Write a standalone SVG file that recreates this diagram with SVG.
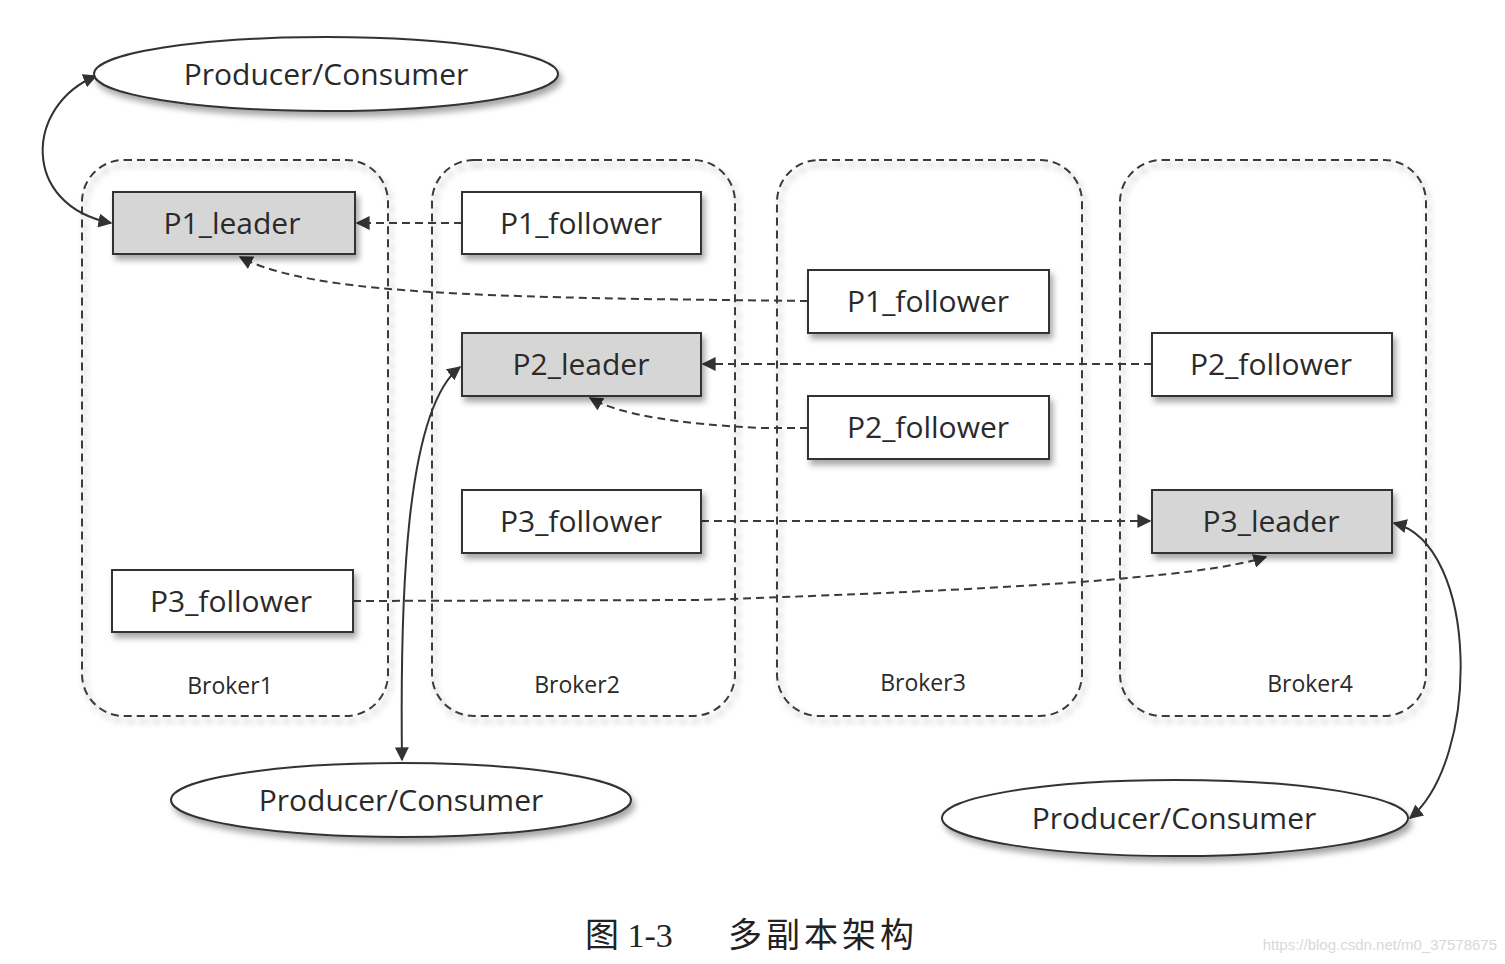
<svg xmlns="http://www.w3.org/2000/svg" width="1505" height="964" viewBox="0 0 1505 964">
<style>
.broker{fill:none;stroke:#3a3a3a;stroke-width:2;stroke-dasharray:8 5}
.box{fill:#fff;stroke:#333;stroke-width:2}
.lead{fill:#d6d6d6;stroke:#333;stroke-width:2}
.ell{fill:#fff;stroke:#333;stroke-width:2}
.t{font-family:"Open Sans","Liberation Sans",sans-serif;font-size:30px;fill:#2a2a2a;text-anchor:middle;dominant-baseline:central}
.bl{font-family:"Open Sans","Liberation Sans",sans-serif;font-size:23px;fill:#2a2a2a;text-anchor:middle}
.dash{fill:none;stroke:#3a3a3a;stroke-width:2;stroke-dasharray:8 5}
.solid{fill:none;stroke:#333;stroke-width:2}
.cap{font-family:"Liberation Serif","Noto Sans CJK SC",serif;font-size:34px;fill:#222}
</style>
<defs>
<filter id="sh" x="-10%" y="-10%" width="130%" height="140%">
<feDropShadow dx="3" dy="5" stdDeviation="3" flood-color="#000" flood-opacity="0.35"/>
</filter>
<marker id="ahb" viewBox="0 0 10 10" refX="9" refY="5" markerWidth="14" markerHeight="14" markerUnits="userSpaceOnUse" orient="auto-start-reverse">
<path d="M0,0 L10,5 L0,10 Z" fill="#333"/>
</marker>
</defs>
<rect width="1505" height="964" fill="#fff"/>

<g id="broker1"><rect class="broker" x="82" y="160" width="306" height="556" rx="42" filter="url(#sh)"/><text class="bl" x="230" y="694">Broker1</text></g>
<g id="broker2"><rect class="broker" x="432" y="160" width="303" height="556" rx="42" filter="url(#sh)"/><text class="bl" x="577" y="693">Broker2</text></g>
<g id="broker3"><rect class="broker" x="777" y="160" width="305" height="556" rx="42" filter="url(#sh)"/><text class="bl" x="923" y="691">Broker3</text></g>
<g id="broker4"><rect class="broker" x="1120" y="160" width="306" height="556" rx="42" filter="url(#sh)"/><text class="bl" x="1310" y="692">Broker4</text></g>

<g id="connectors">
<path class="solid" d="M96 76 C 25 105, 20 205, 111 223" marker-start="url(#ahb)" marker-end="url(#ahb)"/>
<path class="dash" d="M462 223 L357 223" marker-end="url(#ahb)"/>
<path class="dash" d="M808 301 L640 299 C 420 295, 300 288, 240 257" marker-end="url(#ahb)"/>
<path class="dash" d="M1152 364 L703 364" marker-end="url(#ahb)"/>
<path class="dash" d="M808 428 L760 428 C 680 424, 620 415, 590 398" marker-end="url(#ahb)"/>
<path class="dash" d="M701 521 L1150 521" marker-end="url(#ahb)"/>
<path class="dash" d="M353 601 L700 600 C 1000 590, 1200 578, 1266 557" marker-end="url(#ahb)"/>
<path class="solid" d="M402 760 C 400 600, 405 410, 460 367" marker-start="url(#ahb)" marker-end="url(#ahb)"/>
<path class="solid" d="M1394 523 C 1480 545, 1480 760, 1410 818" marker-start="url(#ahb)" marker-end="url(#ahb)"/>
</g>

<g id="p1_leader"><rect class="lead" x="113" y="192" width="242" height="62" filter="url(#sh)"/><text class="t" x="232" y="222">P1_leader</text></g>
<g id="p1_follower_b2"><rect class="box" x="462" y="192" width="239" height="62" filter="url(#sh)"/><text class="t" x="581" y="222">P1_follower</text></g>
<g id="p1_follower_b3"><rect class="box" x="808" y="270" width="241" height="63" filter="url(#sh)"/><text class="t" x="928" y="300">P1_follower</text></g>
<g id="p2_leader"><rect class="lead" x="462" y="333" width="239" height="63" filter="url(#sh)"/><text class="t" x="581" y="363">P2_leader</text></g>
<g id="p2_follower_b4"><rect class="box" x="1152" y="333" width="240" height="63" filter="url(#sh)"/><text class="t" x="1271" y="363">P2_follower</text></g>
<g id="p2_follower_b3"><rect class="box" x="808" y="396" width="241" height="63" filter="url(#sh)"/><text class="t" x="928" y="426">P2_follower</text></g>
<g id="p3_follower_b2"><rect class="box" x="462" y="490" width="239" height="63" filter="url(#sh)"/><text class="t" x="581" y="520">P3_follower</text></g>
<g id="p3_leader"><rect class="lead" x="1152" y="490" width="240" height="63" filter="url(#sh)"/><text class="t" x="1271" y="520">P3_leader</text></g>
<g id="p3_follower_b1"><rect class="box" x="112" y="570" width="241" height="62" filter="url(#sh)"/><text class="t" x="231" y="600">P3_follower</text></g>

<g id="pc_top"><ellipse class="ell" cx="326" cy="74" rx="232" ry="37" filter="url(#sh)"/><text class="t" x="326" y="73">Producer/Consumer</text></g>
<g id="pc_bottom_left"><ellipse class="ell" cx="401" cy="800" rx="230" ry="37" filter="url(#sh)"/><text class="t" x="401" y="799">Producer/Consumer</text></g>
<g id="pc_bottom_right"><ellipse class="ell" cx="1175" cy="818" rx="233" ry="38" filter="url(#sh)"/><text class="t" x="1174" y="817">Producer/Consumer</text></g>

<text class="cap" x="585" y="947">图 1-3<tspan x="728" letter-spacing="4">多副本架构</tspan></text>
<text x="1497" y="950" text-anchor="end" font-family="'Liberation Sans',sans-serif" font-size="15" fill="#d8d8d8">https://blog.csdn.net/m0_37578675</text>
</svg>
